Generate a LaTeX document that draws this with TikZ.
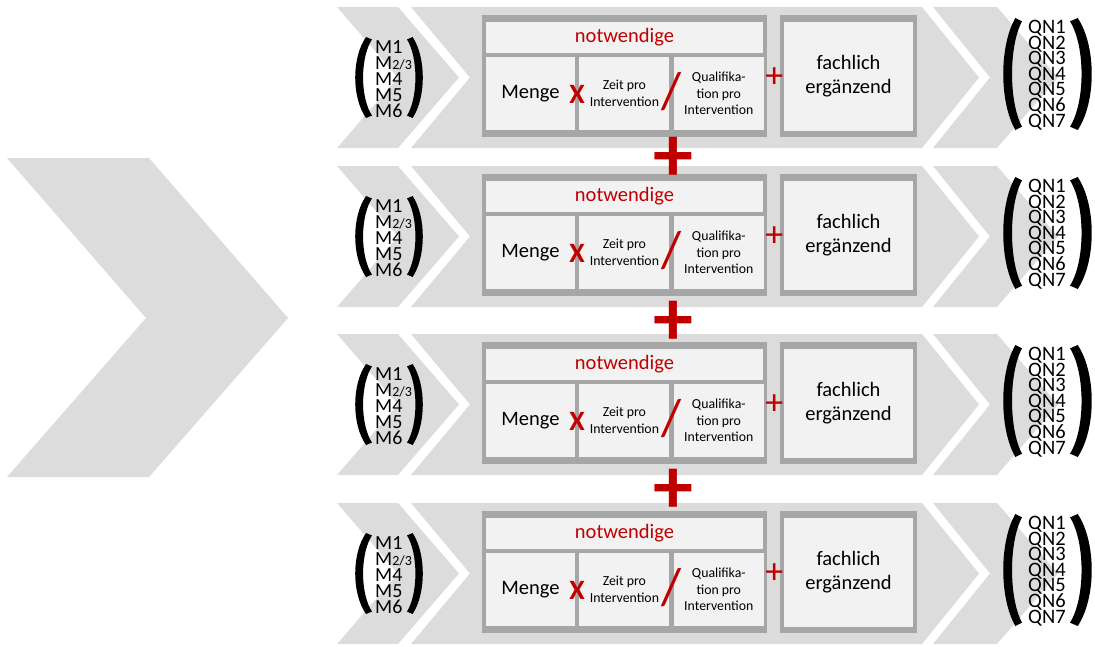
\documentclass[tikz,border=0pt]{standalone}
\usepackage{fontspec}
\setmainfont{Carlito}
\usetikzlibrary{positioning}

\definecolor{chevgray}{HTML}{DCDCDC}
\definecolor{framegray}{HTML}{A6A6A6}
\definecolor{cellgray}{HTML}{F2F2F2}
\definecolor{opred}{HTML}{C00000}

% bold round bracket: outer x, open x, top y, bottom y
\newcommand{\bracket}[4]{%
  \fill ({(#2)-0.35*((#2)-(#1))},{#3})
    .. controls ({(#1)-0.2*((#2)-(#1))},{(#3)+0.25*((#4)-(#3))})
            and ({(#1)-0.2*((#2)-(#1))},{(#4)-0.25*((#4)-(#3))})
    .. ({(#2)-0.35*((#2)-(#1))},{#4})
    -- ({#2},{(#4)-0.03*((#4)-(#3))})
    .. controls ({(#1)+0.3*((#2)-(#1))},{(#4)-0.25*((#4)-(#3))})
            and ({(#1)+0.3*((#2)-(#1))},{(#3)+0.25*((#4)-(#3))})
    .. ({#2},{(#3)+0.03*((#4)-(#3))})
    -- cycle;}

\begin{document}
\lineskiplimit=-20pt
\begin{tikzpicture}[x=1pt,y=-1pt]
  % --- styles ---
  \tikzstyle{cell} = [fill=cellgray, inner sep=0pt, align=center]
  \tikzstyle{bigfont} = [font=\fontsize{20.5}{24}\selectfont]
  \tikzstyle{smallfont} = [font=\fontsize{13.8}{16.5}\selectfont]
  \tikzstyle{op} = [text=opred, inner sep=0pt]
  \tikzstyle{vecstack} = [font=\fontsize{20}{16}\selectfont,
                          align=left, inner sep=0pt, anchor=west]

  \useasboundingbox (0,0) rectangle (1095,646);

  % --- large arrow on the left ---
  \fill[chevgray] (7,158) -- (149,158) -- (288,318) -- (149,477) -- (7,477) -- (146,318) -- cycle;

  % --- four rows ---
  \foreach \t/\i in {7/1,166/2,334/3,503/4} {
    % chevrons
    \fill[chevgray] (337,\t) -- (398,\t) -- (459,\t+70.5) -- (398,\t+141) -- (337,\t+141) -- (398,\t+70.5) -- cycle;
    \fill[chevgray] (411,\t) -- (922,\t) -- (979,\t+70.5) -- (922,\t+141) -- (411,\t+141) -- (470,\t+70.5) -- cycle;
    \fill[chevgray] (933,\t) -- (997,\t) -- (1058,\t+70.5) -- (997,\t+141) -- (933,\t+141) -- (990,\t+70.5) -- cycle;

    % frames
    \fill[framegray] (482,\t+8) rectangle (767,\t+130);
    \fill[framegray] (780,\t+8) rectangle (917,\t+130);

    % cells
    \node[cell, bigfont, text=opred, minimum width=277pt, minimum height=31pt] (head\i) at (624.5,\t+30.5) {notwendige};
    \node[cell, bigfont, minimum width=89pt, minimum height=73pt] (menge\i) at (530.5,\t+86.5) {Menge};
    \node[cell, smallfont, minimum width=90pt, minimum height=73pt, right=4pt of menge\i] (zeit\i) {Zeit pro\\Intervention};
    \node[cell, smallfont, minimum width=90pt, minimum height=73pt, right=4pt of zeit\i] (quali\i) {Qualifika-\\tion pro\\Intervention};
    \node[cell, bigfont, minimum width=129pt, minimum height=109pt] (fach\i) at (848.5,\t+69.5) {fachlich\\ergänzend};

    % operators
    \node[op, font=\fontsize{28}{28}\selectfont\bfseries, xshift=2pt, yshift=-1pt] (times\i) at (menge\i.east) {X};
    \node[op, font=\fontsize{52}{52}\selectfont, xshift=2pt, yshift=2pt] (div\i) at (zeit\i.east) {/};
    \node[op, font=\fontsize{36}{36}\selectfont, xshift=-9.5pt, yshift=-1pt] (plus\i) at (fach\i.west) {+};

    % vectors
    \node[vecstack] (mvec\i) at (375,\t+72.5) {M1\\M{\fontsize{14}{14}\selectfont 2/3}\\M4\\M5\\M6};
    \node[vecstack, font=\fontsize{20.5}{15.6}\selectfont] (qnvec\i) at (1028,\t+68) {QN1\\QN2\\QN3\\QN4\\QN5\\QN6\\QN7};

    % brackets
    \bracket{355}{372}{\t+30}{\t+111}
    \bracket{423}{407}{\t+30}{\t+111}
    \bracket{1003}{1022}{\t+11}{\t+123}
    \bracket{1092}{1070}{\t+11}{\t+123}
  }

  % --- sums between rows ---
  \foreach \y/\j in {159/1,323/2,491/3}
    \node[op, font=\fontsize{80}{80}\selectfont\bfseries] (sum\j) at (673,\y) {+};
\end{tikzpicture}
\end{document}
